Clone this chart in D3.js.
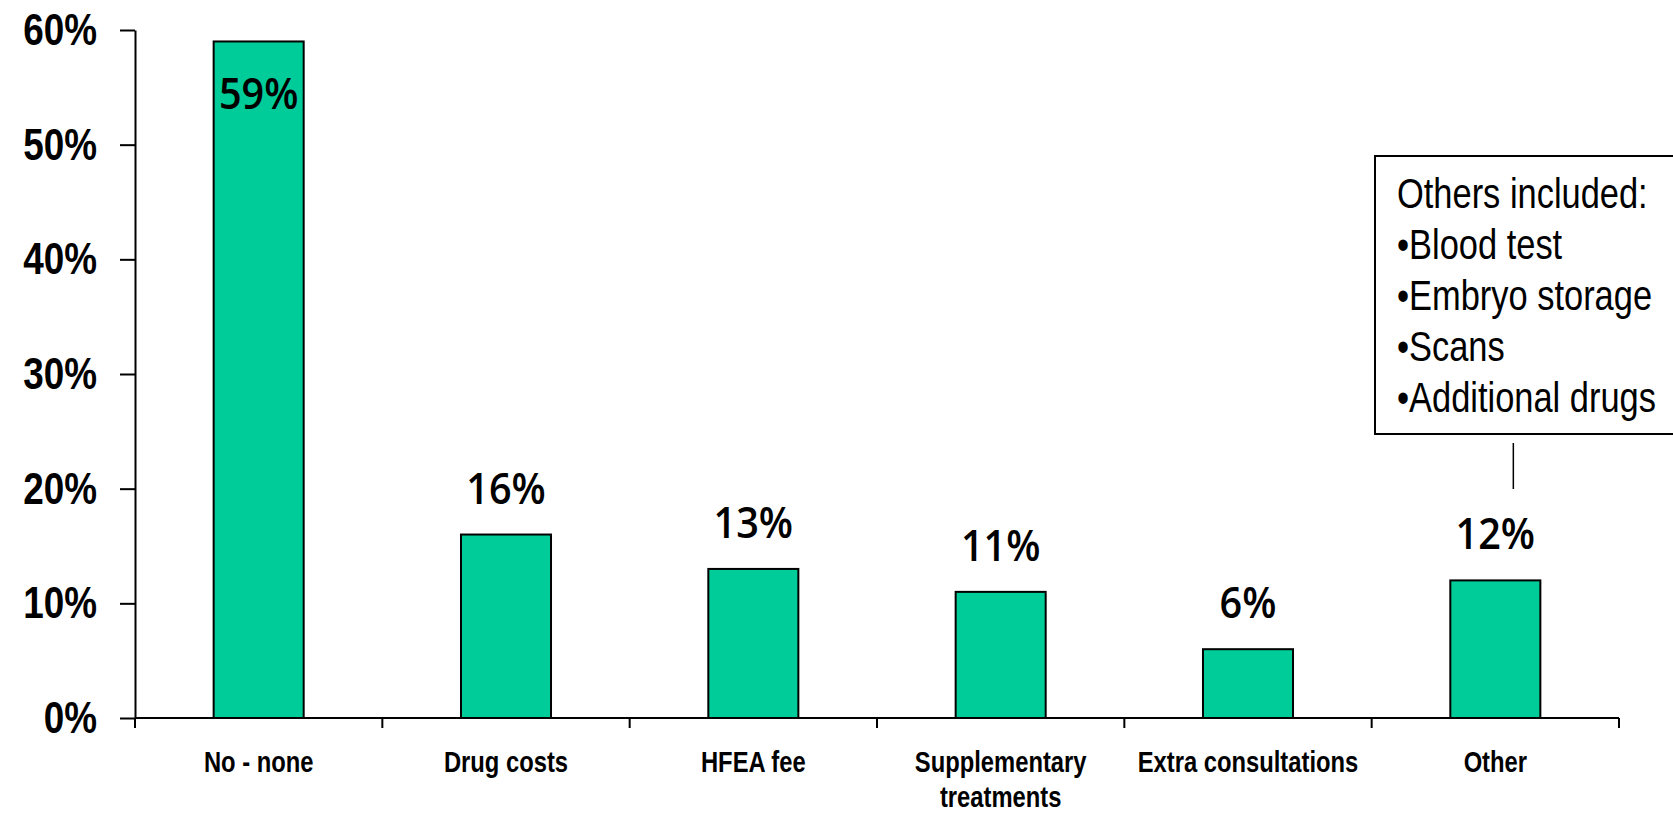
<!DOCTYPE html>
<html>
<head>
<meta charset="utf-8">
<script src="https://cdn.jsdelivr.net/npm/d3@7"></script>
<style>
  html, body { margin: 0; padding: 0; background: #fff; }
  svg { display: block; }
</style>
</head>
<body>
<svg id="chart" width="1673" height="814"></svg>
<script>
// ---- data ----
const categories = ["No - none", "Drug costs", "HFEA fee", "Supplementary\ntreatments", "Extra consultations", "Other"];
const values = [59, 16, 13, 11, 6, 12];
const yTicks = [0, 10, 20, 30, 40, 50, 60];
const noteLines = ["Others included:", "\u2022Blood test", "\u2022Embryo storage", "\u2022Scans", "\u2022Additional drugs"];
const noteCategory = "Other";

// ---- layout ----
const FONT = "'Liberation Sans', Arial, sans-serif";
const NARROW = 0.82; // horizontal compression to mimic a narrow face
const svg = d3.select("#chart");
const plotLeft = 135, plotRight = 1619, plotTop = 30, plotBottom = 718;

const x = d3.scaleBand().domain(categories).range([plotLeft, plotRight]).padding(0);
const y = d3.scaleLinear().domain([0, 60]).range([plotBottom, plotTop]);
const barW = x.bandwidth() * 0.364;

// y axis
const yAxis = svg.append("g")
  .attr("transform", `translate(${plotLeft},0)`)
  .call(d3.axisLeft(y).tickValues(yTicks).tickFormat(d => d + "%").tickSize(15).tickSizeOuter(0).tickPadding(22));
yAxis.selectAll("path, line").attr("stroke", "#000").attr("stroke-width", 2);
yAxis.selectAll("text")
  .attr("x", 0)
  .attr("transform", `translate(-38,0) scale(${NARROW},1)`)
  .attr("font-family", FONT).attr("font-weight", "bold").attr("font-size", 45).attr("fill", "#000");

// x axis line and ticks at band edges
const edges = categories.map(c => x(c)).concat([x(categories[categories.length - 1]) + x.bandwidth()]);
svg.append("line")
  .attr("x1", plotLeft).attr("x2", plotRight).attr("y1", y(0)).attr("y2", y(0))
  .attr("stroke", "#000").attr("stroke-width", 2);
svg.append("g").selectAll("line").data(edges).join("line")
  .attr("x1", d => d).attr("x2", d => d)
  .attr("y1", y(0)).attr("y2", y(0) + 10)
  .attr("stroke", "#000").attr("stroke-width", 2);

// bars
svg.append("g").selectAll("rect").data(categories).join("rect")
  .attr("x", c => x(c) + x.bandwidth() / 2 - barW / 2)
  .attr("y", (c, i) => y(values[i]))
  .attr("width", barW)
  .attr("height", (c, i) => y(0) - y(values[i]))
  .attr("fill", "#00CC99")
  .attr("stroke", "#000")
  .attr("stroke-width", 2);

// value labels
svg.append("g").selectAll("text").data(categories).join("text")
  .attr("transform", (c, i) => {
    const ly = values[i] > 50 ? y(values[i]) + 68 : y(values[i]) - 31;
    return `translate(${x(c) + x.bandwidth() / 2},${ly}) scale(0.9,1)`;
  })
  .attr("text-anchor", "middle")
  .attr("font-family", "'Open Sans', 'Noto Sans', sans-serif").attr("font-weight", 600).attr("font-size", 44).attr("fill", "#000")
  .text((c, i) => values[i] + "%");

// category labels
const catG = svg.append("g");
categories.forEach(c => {
  const t = catG.append("text")
    .attr("transform", `translate(${x(c) + x.bandwidth() / 2},772) scale(${NARROW},1)`)
    .attr("text-anchor", "middle")
    .attr("font-family", FONT).attr("font-weight", "bold").attr("font-size", 29).attr("fill", "#000");
  c.split("\n").forEach((line, k) => {
    t.append("tspan").attr("x", 0).attr("dy", k === 0 ? 0 : 35).text(line);
  });
});

// annotation box
const noteX = 1375, noteTop = 156, noteBottom = 434;
svg.append("rect")
  .attr("x", noteX).attr("y", noteTop)
  .attr("width", 1673 - noteX + 10).attr("height", noteBottom - noteTop)
  .attr("fill", "#fff").attr("stroke", "#000").attr("stroke-width", 2);
svg.append("g").selectAll("text").data(noteLines).join("text")
  .attr("transform", (d, i) => `translate(${noteX + 22},${208 + i * 51}) scale(${NARROW},1)`)
  .attr("font-family", FONT).attr("font-size", 42).attr("fill", "#000")
  .text(d => d);
const connX = x(noteCategory) + x.bandwidth() / 2 + 18;
svg.append("line")
  .attr("x1", connX).attr("x2", connX)
  .attr("y1", noteBottom + 9).attr("y2", noteBottom + 55)
  .attr("stroke", "#000").attr("stroke-width", 1.5);
</script>
</body>
</html>
